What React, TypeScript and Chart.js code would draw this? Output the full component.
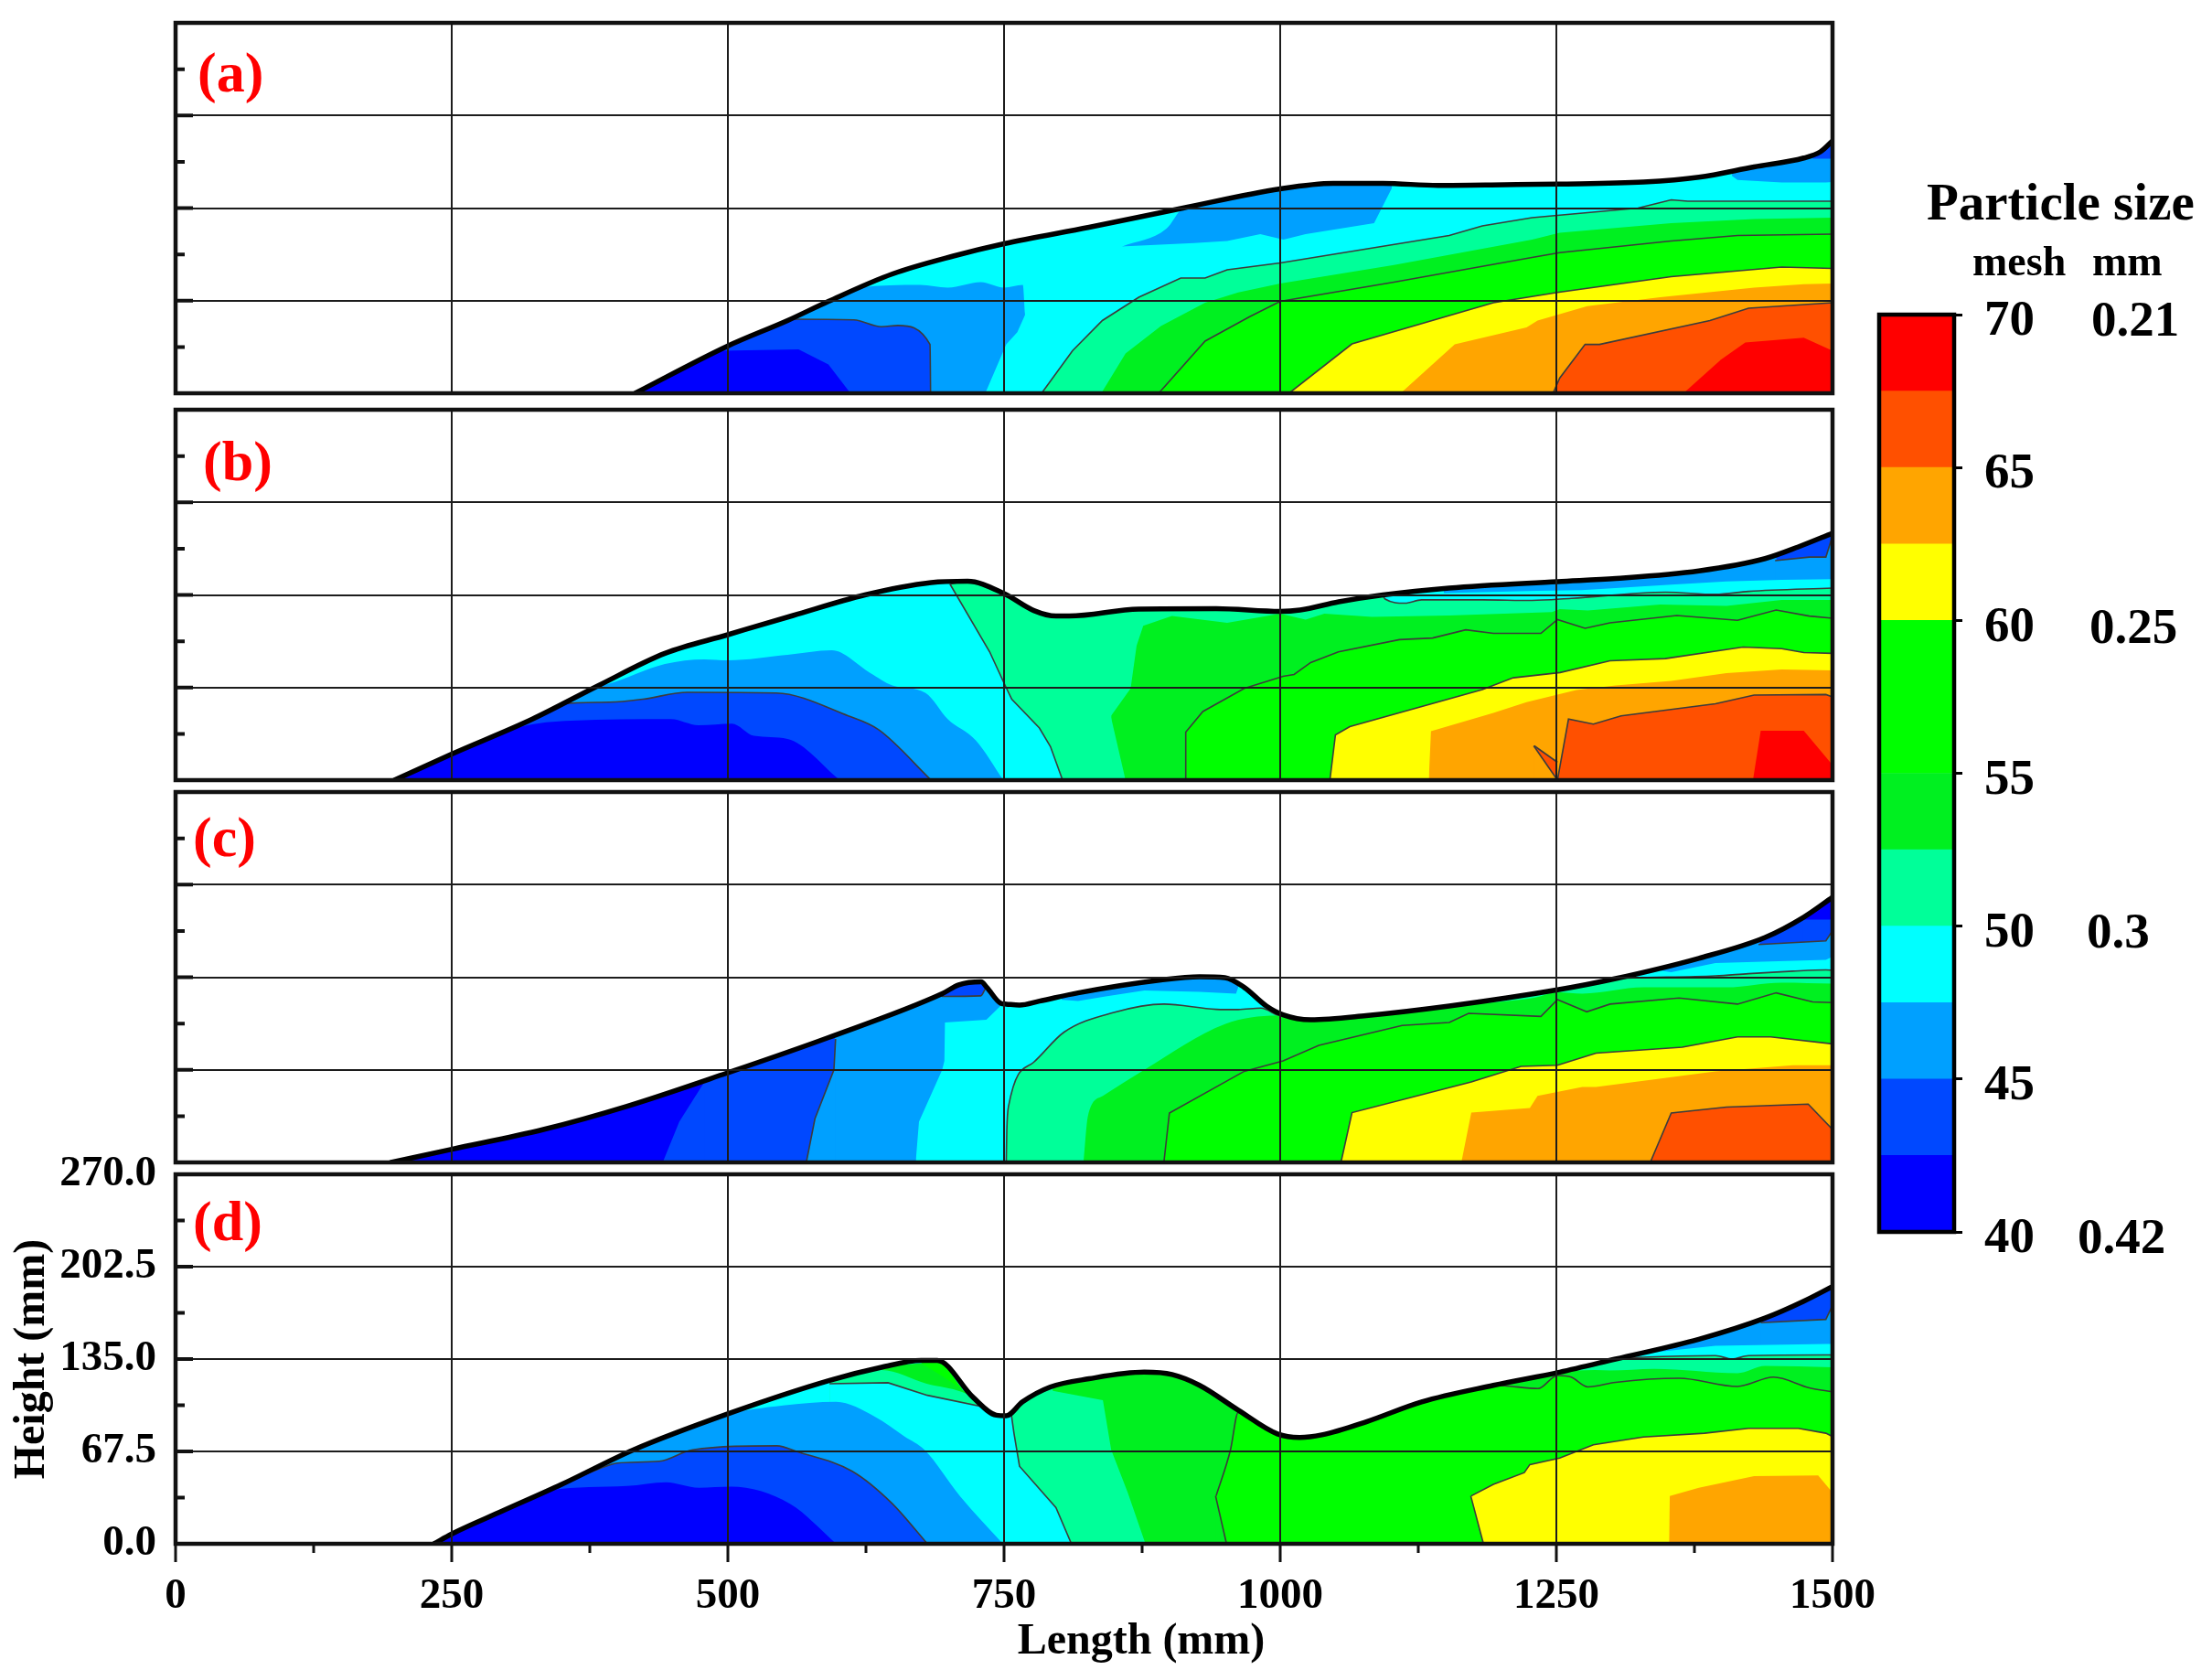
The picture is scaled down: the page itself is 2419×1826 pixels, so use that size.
import React, { useEffect, useRef } from "react";
import { Chart, registerables } from "chart.js";

Chart.register(...registerables);

type Pt = [number, number];
type Layer = [string, Pt[], number];

const C40 = "#0000FF", C42 = "#0048FF", C45 = "#00A0FF", C47 = "#00FFFF", C50 = "#00FF99",
  C52 = "#00F020", C55 = "#00FF00", C60 = "#FFFF00", C62 = "#FFA500", C65 = "#FF5000", C67 = "#FF0000";

const xTickValues = [0, 250, 500, 750, 1000, 1250, 1500];
const yTickValues = ["0.0", "67.5", "135.0", "202.5", "270.0"];
const meshEdges = [40, 42.5, 45, 47.5, 50, 52.5, 55, 60, 62.5, 65, 67.5, 70];
const meshColors = [C40, C42, C45, C47, C50, C52, C55, C60, C62, C65, C67];
const mmLabels = ["0.21", "0.25", "0.3", "0.42"];

// ---------- panel (a) ----------
const a_surface: Pt[] = [[416,0],[500,34.5],[554,53],[591,67],[649,87],[704,100],[750,109],[827,121],[912,135],[1000,149],[1048,153],[1093,153],[1143,151.5],[1203,152],[1251,152.5],[1329,154],[1379,157.5],[1429,165],[1474,171.5],[1489,176],[1500,184]];
const a_patchTop: Pt[] = [[857,107],[897,120],[912,135],[1000,149],[1048,153],[1101,153]];
const a_patchCover: Pt[] = [[856,107],[922,109.5],[952,111],[982,116],[1003,112],[1023,116],[1085,124],[1102,151]];
const a_cornerTop: Pt[] = [[1409,160],[1429,165],[1474,171.5],[1489,176],[1500,184]];
const a_corner42: Pt[] = [[1482,174],[1489,176],[1500,184]];
const a_corner45: Pt[] = [[1481,171],[1500,171]];
const a_cornerCover: Pt[] = [[1408,159],[1414,155.5],[1454,153.7],[1494,153.7],[1500,154]];
const a_50: Pt[] = [[784,0],[812,31],[839,53],[872,70],[910,84],[932,84],[952,90],[1000,95],[1153,115],[1183,122],[1228,128],[1324,135],[1354,141],[1369,140],[1500,140]];
const a_52: Pt[] = [[838,0],[860,29],[892,49],[932,66],[962,73.5],[1000,80],[1103,93.5],[1228,112],[1253,117],[1354,124],[1429,127],[1500,128]];
const a_55: Pt[] = [[890,0],[932,38],[972,55.7],[1000,67],[1103,81],[1228,99],[1253,102.5],[1354,111],[1414,115],[1500,116]];
const a_60: Pt[] = [[1008,0],[1065,36],[1193,66],[1251,73.5],[1354,85],[1454,92],[1500,91]];
const a_62: Pt[] = [[1109,0],[1158,35.6],[1223,48],[1233,53],[1278,63.5],[1344,70],[1429,77],[1474,79.5],[1500,80]];
const a_65: Pt[] = [[1247,0],[1253,11],[1276,35.6],[1289,35.6],[1389,53],[1424,62],[1500,66]];
const a_67: Pt[] = [[1365,0],[1399,24.5],[1421,37],[1474,40.5],[1500,31]];
const a_dome45: Pt[] = [[416,0],[500,34.5],[554,53],[591,67],[619,77],[674,79],[699,77],[729,81],[750,77],[767,79],[769,58]];
const a_wedge47: Pt[] = [[733,0],[752,35.6],[762,44.5],[769.5,58]];
const a_dome42: Pt[] = [[416,0],[500,34.5],[556,54],[614,53.5],[639,48.5],[654,49.4],[683,35.6],[683.5,0]];
const a_dome40: Pt[] = [[416,0],[495,31],[564,32],[591,21],[611,0]];

// ---------- panel (b) ----------
const b_surface: Pt[] = [[198,0],[250,19],[323,44.5],[383,69],[443,92.4],[500,106],[559,120],[624,135],[684,144],[717,145],[750,136],[777,123.6],[797,119.6],[809,119.6],[872,124.7],[942,125],[1000,123],[1018,124],[1053,130],[1093,135],[1153,140],[1251,144.7],[1304,147],[1379,152.5],[1439,161.5],[1469,170],[1500,180]];
const b_top45: Pt[] = [[1148,140],[1153,140],[1251,144.7],[1304,147],[1379,152.5],[1439,161.5],[1469,170],[1500,180]];
const b_top42: Pt[] = [[1449,163.5],[1469,170],[1500,180]];
const b_cover45: Pt[] = [[1448,160],[1479,162.6],[1494,162.6],[1500,178]];
const b_cover47: Pt[] = [[1147,136.3],[1233,138],[1273,138.5],[1354,142.5],[1404,144.8],[1454,146],[1500,146.5]];
const b_50: Pt[] = [[702,143],[717,145],[750,136],[777,123.6],[797,119.6],[809,119.6],[872,124.7],[942,125],[1000,123],[1018,124],[1053,130],[1093,134],[1095,132],[1113,129],[1128,131.4],[1183,131.4],[1228,131],[1263.5,132.5],[1349,137],[1394,135.4],[1424,137.6],[1500,140]];
const b_wedge47: Pt[] = [[701,143],[737,93.5],[751,69],[757,59],[782,38],[792,24.5],[803,0]];
const b_52: Pt[] = [[847,47],[864.6,66.8],[870,98],[876,112.5],[902,119.6],[952,114.7],[1000,121.4],[1023,117],[1040,121.4],[1083,119],[1153,120],[1246,122.5],[1253,124.7],[1278.5,123.6],[1344,128],[1404,127],[1454,131.4],[1500,131.4]];
const b_foot50: Pt[] = [[846.5,47],[860,0]];
const b_55: Pt[] = [[914,0],[914.5,35],[930,50],[967.4,66.8],[1002.6,75.7],[1012.6,77],[1027.6,85.7],[1052.7,93.5],[1108,102.4],[1138,103.6],[1168,109.6],[1193,107],[1236,107],[1251,117],[1276,110.7],[1298.6,114.7],[1359,120],[1414,116.5],[1449,124],[1479,119.6],[1500,118]];
const b_60: Pt[] = [[1045,0],[1050,33],[1063,39],[1183,66],[1211,74.6],[1253.4,78.4],[1298.6,87],[1348.7,88.6],[1419,97],[1454,95.8],[1474,93],[1500,92.4]];
const b_62: Pt[] = [[1134.5,0],[1136.5,35.6],[1193,49],[1223,56.8],[1268,65.7],[1303.6,69],[1354,72.4],[1404,78],[1454,80.6],[1500,80]];
const b_spikeTop: Pt[] = [[1230,25],[1251,13]];
const b_spikeLow: Pt[] = [[1229.5,25],[1251,0]];
const b_65: Pt[] = [[1251,0],[1261,44.5],[1283.5,40.8],[1308.6,46.8],[1394,55.7],[1429,62],[1494,62.4],[1500,60.6]];
const b_67: Pt[] = [[1428,0],[1435,36],[1474,36],[1499,12],[1500,0]];
const b_dome45: Pt[] = [[198,0],[250,19],[323,44.5],[383,69],[391,70],[443,84.6],[478.5,88],[500,87.3],[554,91.3],[594,94.6],[629,78],[649,69],[679,63.5],[699,44.5],[724.4,29],[749.4,0]];
const b_dome42: Pt[] = [[198,0],[250,19],[323,44.5],[350.5,55.7],[393,56.8],[423,59],[463.4,64],[543.7,63.5],[609,46.8],[636.5,36.7],[684,0]];
const b_dome40: Pt[] = [[198,0],[250,19],[313,39],[358,43.4],[448.4,44.5],[473.5,40],[503.6,41.2],[523.6,32.3],[554,30],[601.4,0]];

// ---------- panel (c) ----------
const c_surface: Pt[] = [[195,0],[250,9.6],[333,24],[408,40.8],[498.6,65],[591,91],[694,123],[709,129.4],[729.3,131.6],[734.4,127.6],[747,116],[752,115.4],[764,114.7],[782,117.6],[817,123.6],[892,133],[927,135.4],[950,134.7],[967.4,127.6],[987.5,114],[1002.6,107.6],[1027.6,104],[1077.8,107],[1153,114],[1251,125.8],[1303.6,134],[1379,148.8],[1439,164],[1474,178.8],[1500,193.3]];
const c_top45: Pt[] = [[1344,141],[1379,148.8],[1439,164],[1474,178.8],[1500,193.3]];
const c_top42: Pt[] = [[1434,163],[1439,164],[1474,178.8],[1500,193.3]];
const c_top40: Pt[] = [[1474,178.8],[1500,193.3]];
const c_cover42: Pt[] = [[1473,177],[1500,177]];
const c_cover45: Pt[] = [[1433,158.8],[1494,161.5],[1499,167.7],[1500,178]];
const c_cover47: Pt[] = [[1343,140],[1354,138.7],[1394,145.4],[1494,147.6],[1500,150]];
const c_patch45: Pt[] = [[802,120],[817,123.6],[892,133],[927,135.4],[950,134.7],[962,130]];
const c_patchCover: Pt[] = [[801,118.7],[817,117.6],[842,121],[877,125.4],[927,124.3],[960,123],[963,130]];
const c_50: Pt[] = [[752,0],[752.5,23],[754,40.7],[776.8,73],[804.4,95],[849.5,109.3],[894.7,115.4],[942,111.6],[962,111.4],[982.5,112.5],[1000,106.5],[1027.6,104],[1077.8,107],[1153,114],[1251,125.8],[1303.6,134],[1319,134.5],[1394,136],[1424,137.6],[1464,139.4],[1494,140.3],[1500,140]];
const c_52: Pt[] = [[822,0],[826,34],[839.5,48.5],[877,67.5],[950,100.9],[997,107],[1027.6,104],[1077.8,107],[1153,114],[1230,120],[1251,124],[1273.5,123],[1329,127.6],[1404,127.6],[1454,131],[1500,130.3]];
const c_55: Pt[] = [[894.7,0],[899.7,36],[967.4,66.4],[1002.6,74],[1035,85.3],[1110.4,99.8],[1153,102],[1170.6,108.7],[1236,106.4],[1251,118.7],[1277.5,109.8],[1298.6,115.4],[1361,119.8],[1414,115.4],[1449,123.6],[1482,117],[1500,116.5]];
const c_60: Pt[] = [[1055,0],[1065,36.3],[1173,58.6],[1218,70],[1251,70.8],[1286,79.7],[1364,84],[1414,91.5],[1444,91.5],[1500,86.4]];
const c_62: Pt[] = [[1164,0],[1173,36.3],[1226,39.6],[1233,48.5],[1273.5,55],[1286,55],[1394,66.4],[1464,70.8],[1500,70.8]];
const c_65: Pt[] = [[1335,0],[1354,36],[1404,40.3],[1478,42.5],[1500,24]];
const c_hump42: Pt[] = [[694,123],[709,129.4],[729.3,131.6],[734,127.6]];
const c_left45: Pt[] = [[195,0],[250,9.6],[333,24],[408,40.8],[498.6,65],[591,91],[693,122.5],[694,121],[729,121.4],[734,127],[747,116]];
const c_edge47: Pt[] = [[670,0],[673,29.6],[694,67.5],[696,74],[696.5,102],[734,104],[748,115]];
const c_left42: Pt[] = [[195,0],[250,9.6],[333,24],[408,40.8],[498.6,65],[591,91],[597,92.5]];
const c_edge45: Pt[] = [[571,0],[578.8,31.8],[596,67.5],[597.5,90]];
const c_left40: Pt[] = [[195,0],[250,9.6],[333,24],[408,40.8],[478.5,59]];
const c_edge42: Pt[] = [[441,0],[456,29.6],[479,59]];

// ---------- panel (d) ----------
const d_surface: Pt[] = [[234,0],[250,7.2],[296,24],[349.5,43.4],[414.6,68.7],[500,95],[592,119.4],[639,129],[675,134],[689.5,134],[722,107],[743,94],[752,93.6],[766.7,103.7],[792,114.6],[827,120.6],[877,125.4],[902,123.7],[927,115.8],[962,97.7],[997.5,80.3],[1017.6,77.7],[1037.7,79.6],[1078,89.2],[1128,103.7],[1193,115.8],[1253,125.4],[1303.6,135],[1379,149.5],[1439,165],[1474,177.3],[1500,188]];
const d_top45: Pt[] = [[1340,141],[1379,149.5],[1439,165],[1474,177.3],[1500,188]];
const d_top42: Pt[] = [[1436,165],[1474,177.3],[1500,188]];
const d_cover45: Pt[] = [[1435,161.6],[1494,164],[1499,172.5],[1500,185]];
const d_cover47: Pt[] = [[1339,140],[1394,144.7],[1494,146],[1500,146]];
const d_hump55: Pt[] = [[675,134],[689.5,134],[712,113.6]];
const d_hump52: Pt[] = [[639,129],[660,131],[675,132],[695,122],[712,113],[718,109]];
const d_hump50: Pt[] = [[592,119.4],[620,125],[639,127],[680,117],[712,111],[722,107],[743,94]];
const d_humpCover: Pt[] = [[592,117],[645,117.7],[680.6,108.5],[734,99.6],[745,94]];
const d_50: Pt[] = [[756,96],[766.7,103.7],[792,114.6],[827,120.6],[877,125.4],[902,123.7],[927,115.8],[962,97.7],[997.5,80.3],[1017.6,77.7],[1037.7,79.6],[1078,89.2],[1128,103.7],[1193,115.8],[1253,125.4],[1303.6,135],[1329,136.3],[1394,137.5],[1409,135],[1424,137.5],[1494,138],[1500,138]];
const d_wedge47: Pt[] = [[752,94],[756.7,94],[759,80.8],[764,56.7],[797,26.5],[811,0]];
const d_52: Pt[] = [[794,114],[827,120.6],[877,125.4],[902,123.7],[927,115.8],[962,97.7],[997.5,80.3],[1017.6,77.7],[1037.7,79.6],[1078,89.2],[1128,103.7],[1193,115.8],[1253,125.4],[1285,127],[1298.6,126.6],[1338.7,127.8],[1414,124.7],[1439,130],[1500,129]];
const d_wedge50: Pt[] = [[793,112],[839.5,105],[842,92.9],[847,68.7],[862,37.4],[878,0]];
const d_55: Pt[] = [[942,35],[955,68.7],[962,96],[997.5,80.3],[1017.6,77.7],[1037.7,79.6],[1078,89.2],[1128,103.7],[1193,115.8],[1203,115.5],[1233.4,113.4],[1251,123],[1263.5,121.8],[1278.5,114.6],[1303.6,118],[1361,121],[1414,115],[1446.6,121.8],[1479,114],[1500,111]];
const d_foot52: Pt[] = [[941.5,35],[951.4,0]];
const d_60: Pt[] = [[1173,35],[1193,43.4],[1221,52],[1226,57.9],[1253,62.7],[1283.5,72.4],[1328.7,78],[1384,80.8],[1424,84.4],[1469,84.4],[1494,80.8],[1500,78.4]];
const d_foot55: Pt[] = [[1172.5,35],[1184,0]];
const d_62: Pt[] = [[1352,0],[1352.7,35],[1379,41],[1429,49.4],[1487,50],[1500,37.4]];
const d_dome45: Pt[] = [[234,0],[250,7.2],[296,24],[349.5,43.4],[414.6,68.7],[497,94],[550,101],[598,103.7],[633,92.9],[660,78.4],[678,68.7],[710,35],[749,0]];
const d_dome42: Pt[] = [[234,0],[250,7.2],[296,24],[349.5,43.4],[382,54.3],[400,59],[438,60.3],[468,68.7],[544.6,71.6],[562,67.5],[612.6,53],[648,30],[680.6,0]];
const d_dome40: Pt[] = [[234,0],[250,7.2],[296,24],[340,39],[408.6,42.2],[444,45],[473.7,41],[503,41.7],[556.5,29],[598,0]];

// Painter's order: each entry paints over the previous ones. [colour, top curve, contour line?]
const panelA: Layer[] = [
  [C47,a_surface,0],[C45,a_patchTop,0],[C47,a_patchCover,0],[C45,a_cornerTop,0],[C42,a_corner42,0],[C45,a_corner45,0],[C47,a_cornerCover,0],
  [C50,a_50,1],[C52,a_52,0],[C55,a_55,1],[C60,a_60,1],[C62,a_62,0],[C65,a_65,1],[C67,a_67,0],
  [C45,a_dome45,0],[C47,a_wedge47,0],[C42,a_dome42,1],[C40,a_dome40,0],
];
const panelB: Layer[] = [
  [C47,b_surface,0],[C45,b_top45,0],[C42,b_top42,0],[C45,b_cover45,1],[C47,b_cover47,0],
  [C50,b_50,1],[C47,b_wedge47,1],[C52,b_52,0],[C50,b_foot50,0],[C55,b_55,1],[C60,b_60,1],[C62,b_62,0],
  [C65,b_spikeTop,1],[C62,b_spikeLow,1],[C65,b_65,1],[C67,b_67,0],
  [C45,b_dome45,0],[C42,b_dome42,1],[C40,b_dome40,0],
];
const panelC: Layer[] = [
  [C47,c_surface,0],[C45,c_top45,0],[C42,c_top42,0],[C40,c_top40,0],[C42,c_cover42,0],[C45,c_cover45,1],[C47,c_cover47,0],
  [C45,c_patch45,0],[C47,c_patchCover,0],
  [C50,c_50,1],[C52,c_52,0],[C55,c_55,1],[C60,c_60,1],[C62,c_62,0],[C65,c_65,1],
  [C42,c_hump42,0],[C45,c_left45,1],[C47,c_edge47,0],[C42,c_left42,0],[C45,c_edge45,1],[C40,c_left40,0],[C42,c_edge42,0],
];
const panelD: Layer[] = [
  [C47,d_surface,0],[C45,d_top45,0],[C42,d_top42,0],[C45,d_cover45,1],[C47,d_cover47,0],
  [C55,d_hump55,0],[C52,d_hump52,0],[C50,d_hump50,0],[C47,d_humpCover,1],
  [C50,d_50,1],[C52,d_52,0],[C50,d_wedge50,0],[C47,d_wedge47,1],[C55,d_55,1],[C52,d_foot52,1],[C60,d_60,1],[C55,d_foot55,1],[C62,d_62,0],
  [C45,d_dome45,0],[C42,d_dome42,1],[C40,d_dome40,0],
];

const W = 2419, H = 1826, SERIF = '"Liberation Serif", serif';
const X_LEFT = 192, X_RIGHT = 2004;

type TextItem = { t: string; x: number; y: number; font: string; color?: string; align?: CanvasTextAlign };

const textPlugin = (items: TextItem[]) => ({
  id: "texts",
  afterDraw(chart: any) {
    const c = chart.ctx;
    c.save();
    c.textBaseline = "alphabetic";
    for (const it of items) {
      c.font = it.font;
      c.fillStyle = it.color || "#000";
      c.textAlign = it.align || "left";
      c.fillText(it.t, it.x, it.y);
    }
    c.restore();
  },
});

const framePlugin = (withXTicks: boolean) => ({
  id: "frame",
  afterDraw(chart: any) {
    const c = chart.ctx, { left, right, top, bottom } = chart.chartArea;
    const ys = chart.scales.y, xs = chart.scales.x;
    c.save();
    c.strokeStyle = "#111";
    c.lineWidth = 4.5;
    c.strokeRect(left, top, right - left, bottom - top);
    c.beginPath();
    c.lineWidth = 4;
    for (const tick of ys.ticks) {
      const k = Math.round(tick.value / 33.75);
      if (k === 0 || k === 8) continue;
      const y = ys.getPixelForValue(tick.value);
      c.moveTo(left, y);
      c.lineTo(left + (k % 2 === 0 ? 19 : 10), y);
    }
    c.stroke();
    if (withXTicks) {
      c.beginPath();
      c.lineWidth = 3;
      for (const tick of xs.ticks) {
        const x = xs.getPixelForValue(tick.value);
        c.moveTo(x, bottom);
        c.lineTo(x, bottom + (tick.value % 250 === 0 ? 20 : 10));
      }
      c.stroke();
    }
    c.restore();
  },
});

function makePanel(canvas: HTMLCanvasElement, layers: Layer[], surface: Pt[], top: number, bottom: number, letter: TextItem, full: boolean) {
  const onSurface = (p: Pt) => surface.some((s) => s[0] === p[0] && s[1] === p[1]);
  const datasets: any[] = layers.map(([color, pts, contour]) => ({
    data: pts.map(([x, y]) => ({ x, y })),
    backgroundColor: color,
    borderColor: contour ? "#3c3c3c" : "transparent",
    borderWidth: contour ? 1.6 : 0,
    fill: "origin",
    pointRadius: 0,
    cubicInterpolationMode: pts.filter(onSurface).length >= 2 ? "monotone" : "default",
    tension: 0,
  }));
  // The surface itself: thick outline, with everything above it kept white.
  datasets.push({
    data: surface.map(([x, y]) => ({ x, y })),
    borderColor: "#000",
    backgroundColor: "#fff",
    borderWidth: 5.5,
    borderJoinStyle: "round",
    borderCapStyle: "round",
    fill: "end",
    pointRadius: 0,
    cubicInterpolationMode: "monotone",
    tension: 0,
  });
  const texts: TextItem[] = [letter];
  if (full) texts.push({ t: "Length (mm)", x: 1248, y: 1808, font: `bold 48px ${SERIF}`, align: "center" });
  return new Chart(canvas, {
    type: "line",
    data: { datasets: datasets.reverse() },
    plugins: [framePlugin(full), textPlugin(texts)],
    options: {
      animation: false,
      responsive: false,
      events: [],
      devicePixelRatio: 1,
      layout: { autoPadding: false, padding: { left: 0, top, right: W - X_RIGHT, bottom: 0 } },
      plugins: { legend: { display: false }, tooltip: { enabled: false }, title: { display: false } },
      scales: {
        x: {
          type: "linear", min: 0, max: 1500,
          afterFit: (s: any) => { s.height = H - bottom; },
          border: { display: false },
          grid: { z: 1, drawTicks: false, lineWidth: 2, color: (ctx: any) => (ctx.tick && ctx.tick.value % 250 === 0 ? "#1c1c1c" : "transparent") },
          ticks: {
            display: full, stepSize: 125, autoSkip: false, maxRotation: 0, padding: 30, color: "#000",
            font: { family: SERIF, weight: "bold", size: 47 },
            callback: (v: any) => (xTickValues.includes(Number(v)) ? String(v) : ""),
          },
        },
        y: {
          min: 0, max: 270,
          afterFit: (s: any) => { s.width = X_LEFT; },
          border: { display: false },
          title: full
            ? { display: true, text: "Height (mm)", color: "#000", padding: { top: 7, bottom: 0 }, font: { family: SERIF, weight: "bold", size: 48 } }
            : { display: false },
          grid: { z: 1, drawTicks: false, lineWidth: 2, color: (ctx: any) => (ctx.tick && Math.round(ctx.tick.value / 33.75) % 2 === 0 ? "#1c1c1c" : "transparent") },
          ticks: {
            display: full, stepSize: 33.75, autoSkip: false, padding: 21, color: "#000",
            font: { family: SERIF, weight: "bold", size: 47 },
            callback: (v: any) => {
              const k = Math.round(Number(v) / 33.75);
              return k % 2 === 0 ? yTickValues[k / 2] : "";
            },
          },
        },
      },
    },
  } as any);
}

function makeColorbar(canvas: HTMLCanvasElement) {
  const bold = `bold 55px ${SERIF}`;
  const texts: TextItem[] = [
    { t: "Particle size", x: 2107, y: 240, font: `bold 57px ${SERIF}` },
    { t: "mesh", x: 2157, y: 301, font: `bold 46px ${SERIF}` },
    { t: "mm", x: 2288, y: 301, font: `bold 46px ${SERIF}` },
    { t: mmLabels[0], x: 2287, y: 367, font: bold },
    { t: mmLabels[1], x: 2285, y: 703, font: bold },
    { t: mmLabels[2], x: 2282, y: 1036, font: bold },
    { t: mmLabels[3], x: 2272, y: 1370, font: bold },
  ];
  const frame = {
    id: "barFrame",
    afterDraw(chart: any) {
      const { left, right, top, bottom } = chart.chartArea, c = chart.ctx;
      c.save();
      c.strokeStyle = "#000";
      c.lineWidth = 4.5;
      c.strokeRect(left, top, right - left, bottom - top);
      c.restore();
    },
  };
  return new Chart(canvas, {
    type: "bar",
    data: {
      labels: [""],
      datasets: meshColors.map((color, i) => ({
        data: [[meshEdges[i], meshEdges[i + 1]]],
        backgroundColor: color,
        grouped: false,
        barPercentage: 1,
        categoryPercentage: 1,
        borderWidth: 0,
      })),
    },
    plugins: [frame, textPlugin(texts)],
    options: {
      animation: false,
      responsive: false,
      events: [],
      devicePixelRatio: 1,
      layout: { autoPadding: false, padding: { left: 2055, top: 344, right: 0, bottom: H - 1347 } },
      plugins: { legend: { display: false }, tooltip: { enabled: false } },
      scales: {
        x: { display: false },
        y: {
          position: "right", min: 40, max: 70,
          afterFit: (s: any) => { s.width = W - 2137; },
          border: { display: false },
          grid: { drawOnChartArea: false, drawTicks: true, tickLength: 9, tickColor: "#000", tickWidth: 3 },
          ticks: { stepSize: 5, padding: 24, labelOffset: 8, color: "#000", font: { family: SERIF, weight: "bold", size: 55 } },
        },
      },
    },
  } as any);
}

export default function App() {
  const ra = useRef<HTMLCanvasElement>(null);
  const rb = useRef<HTMLCanvasElement>(null);
  const rc = useRef<HTMLCanvasElement>(null);
  const rd = useRef<HTMLCanvasElement>(null);
  const re = useRef<HTMLCanvasElement>(null);

  useEffect(() => {
    const font = `bold 62px ${SERIF}`, red = "#FF0000";
    const charts = [
      makePanel(ra.current!, panelA, a_surface, 25, 430, { t: "(a)", x: 216, y: 100, font, color: red }, false),
      makePanel(rb.current!, panelB, b_surface, 448, 853, { t: "(b)", x: 222, y: 525, font, color: red }, false),
      makePanel(rc.current!, panelC, c_surface, 866, 1271, { t: "(c)", x: 211, y: 936, font, color: red }, false),
      makePanel(rd.current!, panelD, d_surface, 1284, 1688, { t: "(d)", x: 211, y: 1356, font, color: red }, true),
      makeColorbar(re.current!),
    ];
    return () => charts.forEach((c) => c.destroy());
  }, []);

  const style: React.CSSProperties = { position: "absolute", left: 0, top: 0, width: W, height: H, display: "block" };
  return (
    <div style={{ position: "absolute", left: 0, top: 0, width: W, height: H, background: "#fff", overflow: "hidden" }}>
      <canvas ref={ra} width={W} height={H} style={style} />
      <canvas ref={rb} width={W} height={H} style={style} />
      <canvas ref={rc} width={W} height={H} style={style} />
      <canvas ref={rd} width={W} height={H} style={style} />
      <canvas ref={re} width={W} height={H} style={style} />
    </div>
  );
}
